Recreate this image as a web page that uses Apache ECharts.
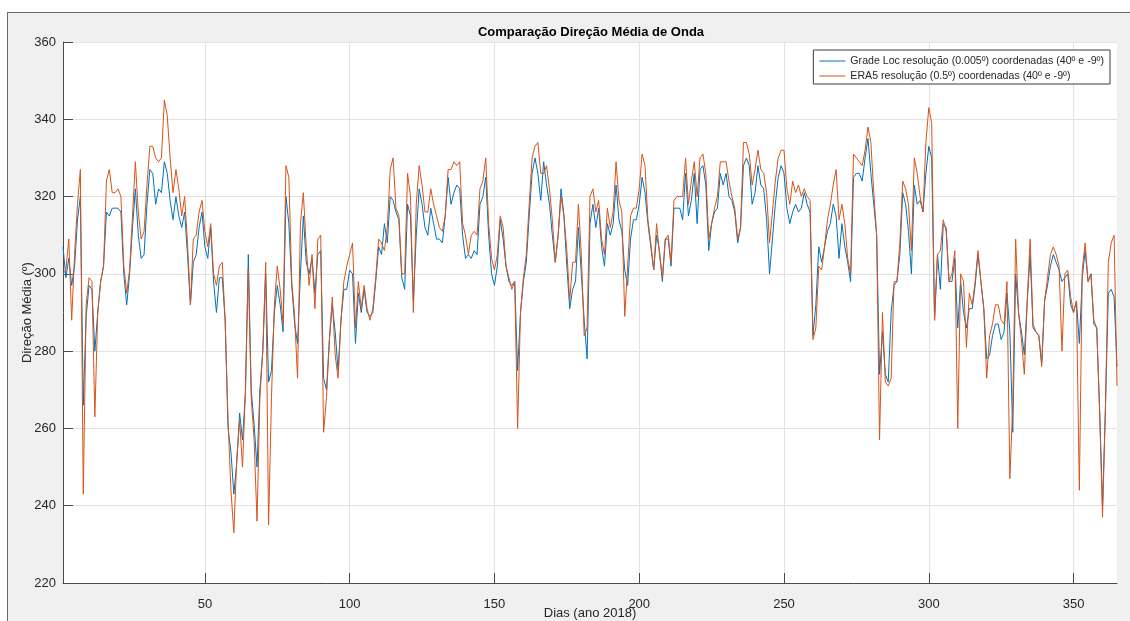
<!DOCTYPE html>
<html>
<head>
<meta charset="utf-8">
<title>Comparação Direção Média de Onda</title>
<script src="https://cdn.jsdelivr.net/npm/echarts@6/dist/echarts.min.js"></script>
<style>
  html, body { margin: 0; padding: 0; background: #ffffff; overflow: hidden; }
  #panel {
    position: absolute; left: 7px; top: 12px; width: 1123px; height: 609px;
    background: #f0f0f0; border-top: 1px solid #6a6a6a; border-left: 1px solid #6a6a6a;
    box-sizing: border-box;
  }
  #chart { position: absolute; left: 0; top: 0; width: 1130px; height: 621px; }
</style>
</head>
<body>
<div id="panel"></div>
<div id="chart"></div>
<script>
// Day of year 2018 (one sample per day)
const days = Array.from({ length: 365 }, (_, i) => i + 1);

// Mean wave direction (degrees), local grid at 0.005º resolution
const gradeLoc = [
  307,299,304,297,302,314,320,266,289,297, 296,280,290,298,302,316,315,317,317,317,
  316,300,292,300,312,322,310,304,305,318, 327,326,318,322,321,329,326,319,314,320,
  315,312,316,305,292,303,305,312,316,307, 304,312,298,290,299,299,288,260,254,243,
  251,264,257,269,305,270,261,250,270,280, 300,272,275,290,297,292,285,320,313,297,
  287,282,300,315,303,300,304,295,305,306, 273,270,283,292,285,275,288,296,296,301,
  300,282,295,290,296,290,289,290,298,307, 305,313,308,320,319,316,314,299,296,318,
  315,293,310,322,318,312,310,317,313,309, 309,308,315,325,318,321,323,322,310,304,
  305,304,306,305,318,320,325,310,300,297, 302,314,309,302,298,297,298,275,290,298,
  303,315,326,330,326,319,329,323,318,310, 303,310,322,315,302,291,296,298,312,300,
  288,278,313,318,312,317,307,302,313,310, 313,323,314,311,301,297,309,314,314,318,
  325,321,313,307,301,310,306,298,309,309, 302,317,317,317,314,326,315,319,326,313,
  327,328,323,306,313,316,317,326,323,326, 320,319,316,308,312,328,330,328,318,321,
  328,323,322,314,300,309,318,325,328,326, 317,313,316,318,316,317,321,318,316,284,
  292,307,303,307,311,313,318,315,304,313, 307,303,298,325,326,326,324,330,335,326,
  318,310,274,285,274,272,290,297,298,305, 321,318,311,300,323,318,319,316,326,333,
  330,288,305,296,313,312,298,298,304,286, 298,290,286,291,291,297,305,298,291,278,
  279,284,287,287,283,285,295,285,259,300, 290,285,279,293,305,286,285,284,277,293,
  297,302,305,303,301,298,299,300,292,290, 293,282,299,306,298,300,287,286,265,240,
  265,295,296,294,276
];

// Mean wave direction (degrees), ERA5 at 0.5º resolution
const era5 = [
  300,301,309,288,305,318,327,243,292,299, 298,263,290,298,302,324,327,321,321,322,
  320,302,295,301,315,329,316,309,311,323, 333,333,330,329,330,345,341,330,321,327,
  322,315,320,308,292,309,310,316,319,311, 307,313,300,297,302,303,288,262,244,233,
  252,262,250,270,301,268,257,236,268,280, 303,235,268,292,302,296,287,328,325,298,
  289,273,313,321,307,297,305,291,309,310, 259,268,283,294,279,273,288,298,302,305,
  308,286,298,291,297,291,288,291,299,309, 308,306,312,327,330,317,315,300,300,326,
  320,290,318,328,323,316,316,322,318,315, 312,311,315,327,327,329,328,329,313,310,
  305,310,311,310,322,324,330,313,304,301, 305,315,312,302,299,296,298,260,290,299,
  305,318,330,333,334,326,326,328,322,314, 303,310,320,315,306,293,303,303,318,305,
  284,286,320,322,316,319,309,305,317,312, 316,329,319,316,289,302,315,317,317,322,
  331,328,314,308,301,313,305,299,309,310, 303,319,320,320,320,330,318,324,329,320,
  330,331,326,309,313,317,320,329,329,329, 324,320,317,309,312,334,334,331,323,327,
  332,327,326,321,308,316,324,330,332,332, 322,318,324,321,323,320,322,320,319,283,
  286,302,301,307,314,318,323,327,314,318, 313,304,300,331,330,329,328,332,338,334,
  321,310,257,290,272,271,273,298,298,308, 324,322,318,306,330,326,320,316,334,343,
  339,288,305,306,314,311,298,300,306,260, 300,298,281,295,292,298,306,298,291,273,
  284,287,292,292,288,287,298,247,266,309, 290,283,274,293,309,287,285,284,276,293,
  299,305,307,305,302,280,300,301,294,290, 293,244,301,308,298,300,288,286,264,237,
  265,303,308,310,271
];

// Axis ticks
const xTicks = [50, 100, 150, 200, 250, 300, 350];
const yMin = 220, yMax = 360, yStep = 20;

const seriesNames = [
  'Grade Loc resolução (0.005º) coordenadas (40º e -9º)',
  'ERA5 resolução (0.5º) coordenadas (40º e -9º)'
];

const axisInk = '#262626';
const gridInk = '#e2e2e2';
const font = '"Liberation Sans", Arial, Helvetica, sans-serif';

const chart = echarts.init(document.getElementById('chart'), null, { renderer: 'canvas' });

chart.setOption({
  animation: false,
  backgroundColor: 'transparent',
  textStyle: { fontFamily: font },
  title: {
    text: 'Comparação Direção Média de Onda',
    left: 586,
    top: 21,
    textAlign: 'center',
    textStyle: { fontSize: 13, fontWeight: 'bold', color: '#000000', fontFamily: font }
  },
  grid: {
    left: 63, right: 13, top: 42, bottom: 38,
    outerBoundsMode: 'none',
    show: true, backgroundColor: '#ffffff', borderWidth: 0
  },
  legend: {
    orient: 'vertical',
    right: 20,
    top: 50,
    icon: 'rect',
    itemWidth: 26,
    itemHeight: 1,
    itemGap: 3,
    padding: [5, 6, 2, 6],
    backgroundColor: '#ffffff',
    borderColor: '#3c3c3c',
    borderWidth: 1,
    textStyle: { fontSize: 10.6, color: axisInk, fontFamily: font, lineHeight: 12 },
    data: seriesNames
  },
  xAxis: {
    type: 'value',
    min: 1,
    max: 365,
    name: 'Dias (ano 2018)',
    nameLocation: 'middle',
    nameGap: 24,
    nameMoveOverlap: false,
    nameTextStyle: { fontSize: 13, color: axisInk, fontFamily: font },
    axisLine: { show: true, onZero: false, lineStyle: { color: '#4a4a4a', width: 1 } },
    axisTick: { show: true, inside: true, length: 10, customValues: xTicks, lineStyle: { color: '#4a4a4a' } },
    axisLabel: { customValues: xTicks, margin: 15, fontSize: 13, color: axisInk, fontFamily: font },
    splitLine: { show: true, lineStyle: { color: gridInk, width: 1 } }
  },
  yAxis: {
    type: 'value',
    min: yMin,
    max: yMax,
    interval: yStep,
    name: 'Direção Média (º)',
    nameLocation: 'middle',
    nameGap: 29,
    nameMoveOverlap: false,
    nameRotate: 90,
    nameTextStyle: { fontSize: 13, color: axisInk, fontFamily: font },
    axisLine: { show: true, lineStyle: { color: '#4a4a4a', width: 1 } },
    axisTick: { show: true, inside: true, length: 10, lineStyle: { color: '#4a4a4a' } },
    axisLabel: { margin: 7, fontSize: 13, color: axisInk, fontFamily: font },
    splitLine: { show: true, lineStyle: { color: gridInk, width: 1 } }
  },
  series: [
    {
      name: seriesNames[0],
      type: 'line',
      symbol: 'none',
      data: days.map((d, i) => [d, gradeLoc[i]]),
      lineStyle: { color: '#0072BD', width: 1 },
      itemStyle: { color: '#0072BD' },
      z: 2
    },
    {
      name: seriesNames[1],
      type: 'line',
      symbol: 'none',
      data: days.map((d, i) => [d, era5[i]]),
      lineStyle: { color: '#D95319', width: 1 },
      itemStyle: { color: '#D95319' },
      z: 3
    }
  ]
});
</script>
</body>
</html>
